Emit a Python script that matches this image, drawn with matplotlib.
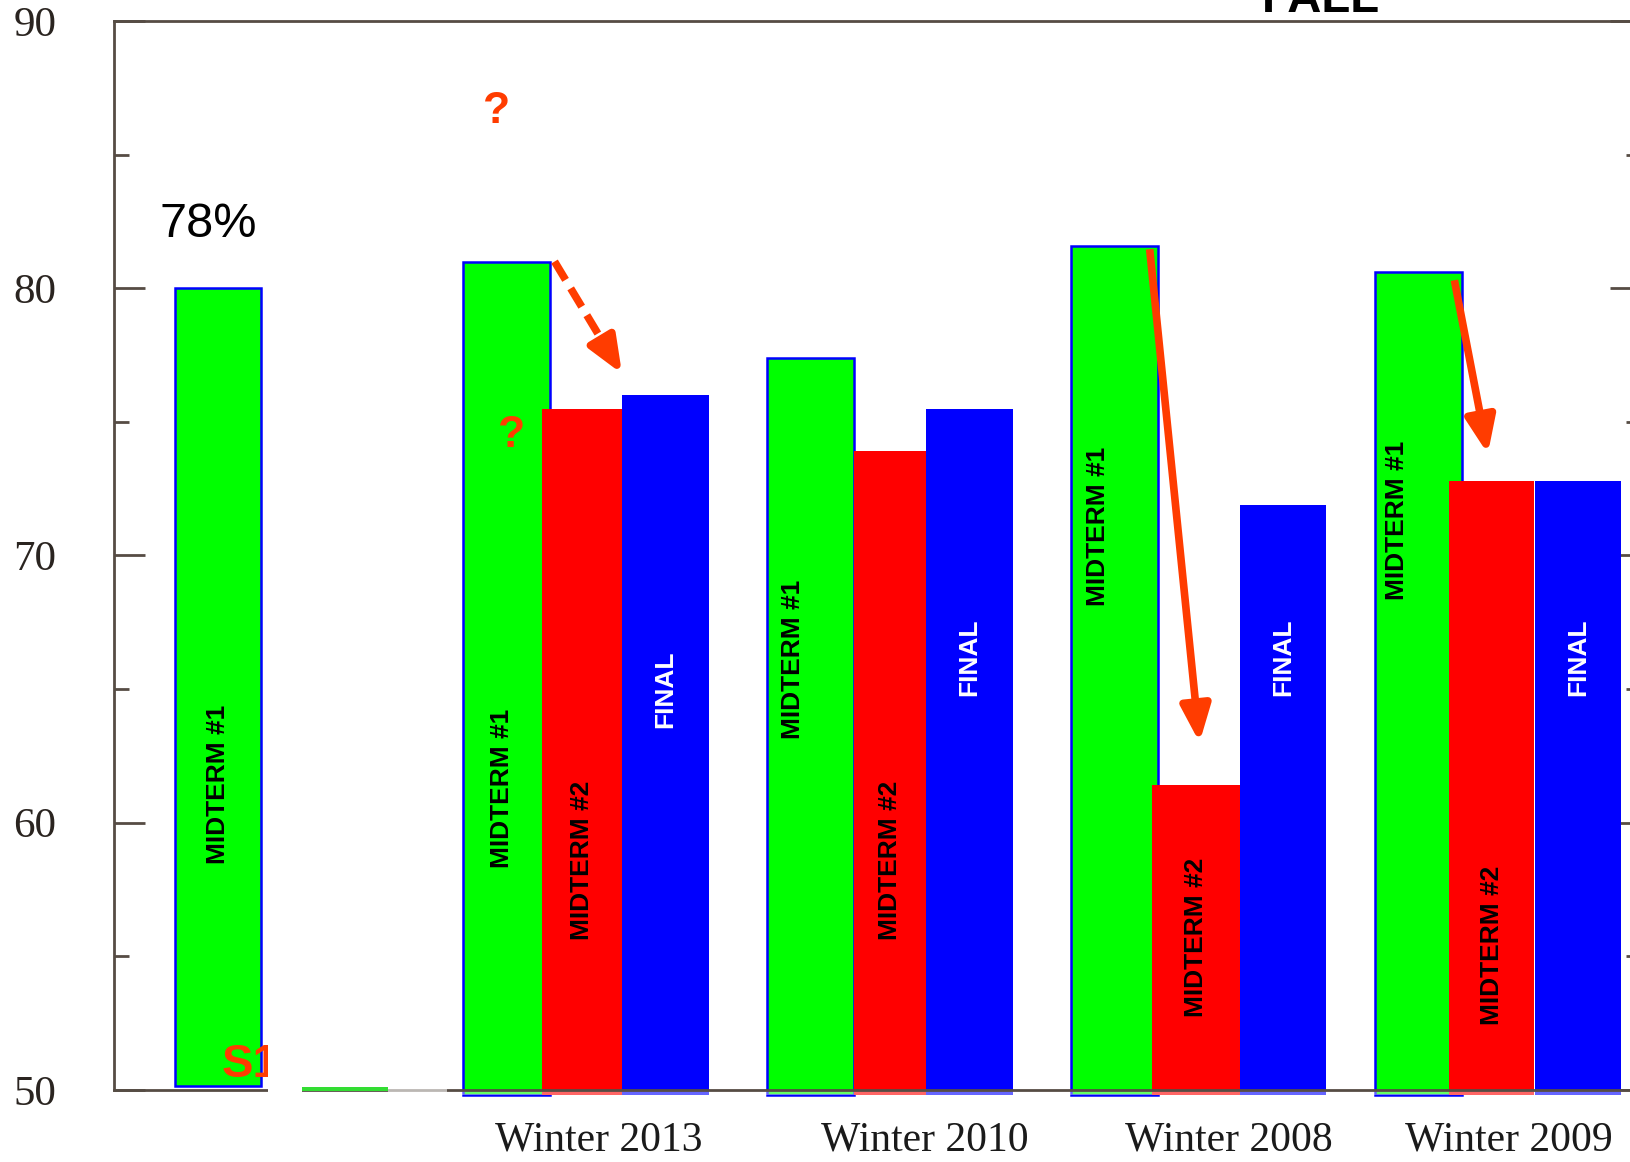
import matplotlib.pyplot as plt
from matplotlib.patches import Rectangle, FancyArrowPatch

plt.rcParams['font.family'] = ['Liberation Sans', 'DejaVu Sans']

# exam averages per term (%)
terms = ['Winter 2013', 'Winter 2010', 'Winter 2008', 'Winter 2009']
midterm1 = [81.0, 77.4, 81.6, 80.6]
midterm2 = [75.5, 73.9, 61.4, 72.8]
final = [76.0, 75.5, 71.9, 72.8]

s1_midterm1 = 80.0
s1_trace = 50.1
s1_note = '78%'

# where the in-bar captions sit (y in %)
m1_label_y = [61.3, 66.1, 71.1, 71.3]
m2_label_y = [58.6, 58.6, 55.7, 55.4]
final_label_y = [65.0, 66.2, 66.2, 66.2]
s1_label_y = 61.45

# layout
group_x = [1, 2, 3, 4]
tick_x = [1.445, 2.52, 3.52, 4.44]
green_w = 0.285
red_off = [0.26, 0.287, 0.267, 0.243]
red_w = [0.264, 0.236, 0.287, 0.28]
blue_off = [0.524, 0.524, 0.554, 0.524]
blue_w = 0.284
green_lab_dx = [0.127, 0.085, 0.087, 0.072]
s1_x = 0.052
base = 49.8

GREEN, RED, BLUE = '#00ff00', '#ff0000', '#0000ff'
ORANGE = '#ff3c00'
AXC = '#564c44'

fig = plt.figure(figsize=(16.31, 11.62), dpi=100)
ax = fig.add_axes([0.0702, 0.062, 0.936, 0.9199])
ax.set_xlim(-0.146, 4.874)
ax.set_ylim(50, 90)

# S1 single bar
ax.bar(s1_x, s1_midterm1 - 50.15, bottom=50.15, width=green_w, align='edge',
       color=GREEN, edgecolor=BLUE, linewidth=1.8, zorder=2)
ax.bar(0.47, s1_trace - 49.97, bottom=49.97, width=0.284, align='edge',
       color='#33dd33', linewidth=0, zorder=3, clip_on=False)

gx = group_x
ax.bar(gx, [v - base for v in midterm1], bottom=base, width=green_w, align='edge',
       color=GREEN, edgecolor=BLUE, linewidth=1.8, zorder=2, clip_on=False)
ax.bar([x + o for x, o in zip(gx, red_off)], [v - base for v in midterm2], bottom=base,
       width=red_w, align='edge', color=RED, linewidth=0, zorder=2.1, clip_on=False)
ax.bar([x + o for x, o in zip(gx, blue_off)], [v - base for v in final], bottom=base,
       width=blue_w, align='edge', color=BLUE, linewidth=0, zorder=2.2, clip_on=False)

# faded strip under the baseline
ax.add_patch(Rectangle((0.95, 49.8), 3.95, 0.2, facecolor='white', alpha=0.4,
                       linewidth=0, zorder=2.3, clip_on=False))

# captions inside bars
cap = dict(rotation=90, ha='center', va='center', fontsize=19, fontweight='bold', zorder=4)
ax.text(s1_x + green_w / 2, s1_label_y, 'MIDTERM #1', color='black', **cap)
for i in range(len(terms)):
    ax.text(gx[i] + green_lab_dx[i], m1_label_y[i], 'MIDTERM #1', color='black', **cap)
    ax.text(gx[i] + red_off[i] + red_w[i] / 2, m2_label_y[i], 'MIDTERM #2', color='black', **cap)
    ax.text(gx[i] + blue_off[i] + blue_w / 2, final_label_y[i], 'FINAL', color='white', **cap)

# notes
ax.text(0.162, 82.4, s1_note, ha='center', va='center', fontsize=35, color='black')
ax.text(1.11, 86.6, '?', ha='center', va='center', fontsize=32, fontweight='bold', color=ORANGE)
ax.text(1.16, 74.5, '?', ha='center', va='center', fontsize=32, fontweight='bold',
        color=ORANGE, zorder=4)
ax.text(0.206, 50.5, 'S1', ha='left', va='baseline', fontsize=34, fontweight='bold',
        color=ORANGE, zorder=4)
ax.text(3.82, 90.35, 'FALL', ha='center', va='baseline', fontsize=34, fontweight='bold',
        color='black', clip_on=False)

# white patch cutting through the S1 tag and baseline
ax.add_patch(Rectangle((0.36, 49.6), 0.11, 2.4, facecolor='white', linewidth=0,
                       zorder=6, clip_on=False))
ax.add_patch(Rectangle((0.754, 49.85), 0.195, 0.3, facecolor='white', alpha=0.6,
                       linewidth=0, zorder=6, clip_on=False))

# drop arrows
head = '-|>,head_length=1.1,head_width=0.45'
arrows = [((1.301, 81.0), (1.523, 76.8), True),
          ((3.258, 81.46), (3.422, 63.0), False),
          ((4.26, 80.3), (4.37, 73.8), False)]
for (x0, y0), (x1, y1), dashed in arrows:
    if dashed:
        # dashed shaft, solid head on the last stretch
        xm, ym = x0 + 0.82 * (x1 - x0), y0 + 0.82 * (y1 - y0)
        ax.plot([x0, xm], [y0, ym], color=ORANGE, lw=5.5, ls=(0, (2.8, 1.3)),
                solid_capstyle='butt', dash_capstyle='butt', zorder=5)
        ax.add_patch(FancyArrowPatch((xm, ym), (x1, y1), arrowstyle=head,
                                     mutation_scale=20, color=ORANGE, linewidth=5.5,
                                     shrinkA=0, shrinkB=0, capstyle='butt', zorder=5))
    else:
        ax.add_patch(FancyArrowPatch((x0, y0), (x1, y1), arrowstyle=head,
                                     mutation_scale=20, color=ORANGE, linewidth=5.5,
                                     shrinkA=0, shrinkB=0, capstyle='butt', zorder=5))

# axes styling
for side in ['left', 'top', 'bottom', 'right']:
    ax.spines[side].set_color(AXC)
    ax.spines[side].set_linewidth(2)
ax.set_yticks([50, 60, 70, 80, 90])
ax.set_yticks([55, 65, 75, 85], minor=True)
ax.tick_params(axis='y', which='both', direction='in', left=True, right=True,
               color=AXC, width=2, labelsize=31, labelcolor='#2a2420', pad=42)
ax.tick_params(axis='y', which='major', length=22)
ax.tick_params(axis='y', which='minor', length=11)
ax.set_xticks(tick_x)
ax.set_xticklabels(terms)
ax.tick_params(axis='x', length=0, labelsize=30, labelcolor='#1a1a1a', pad=22)
for lab in ax.get_xticklabels() + ax.get_yticklabels():
    lab.set_family(['Liberation Serif', 'DejaVu Serif'])

fig.savefig('out.png', dpi=100)
